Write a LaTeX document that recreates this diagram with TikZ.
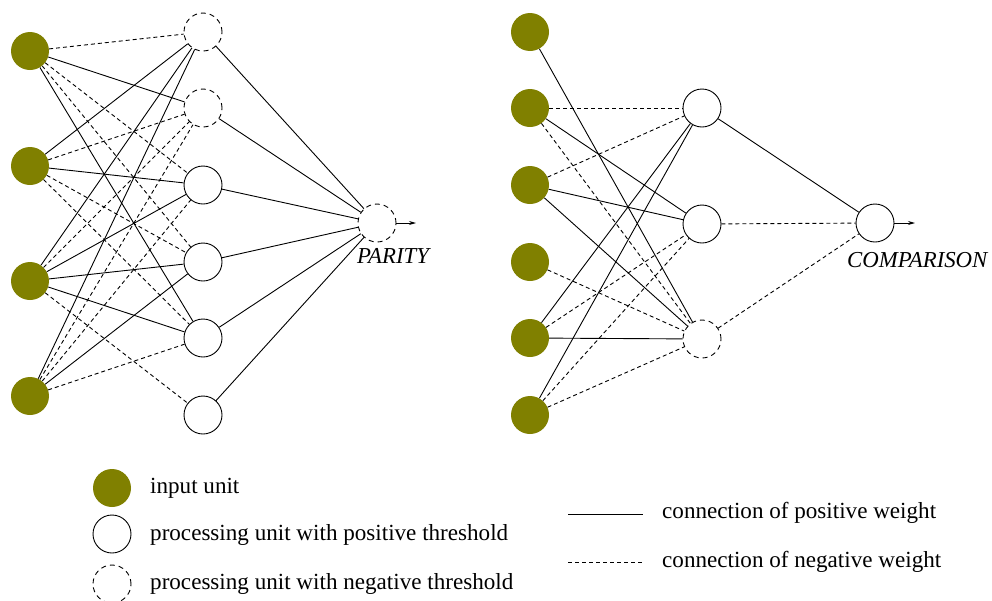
\documentclass[tikz,border=0pt]{standalone}
\usepackage{fontspec}
\setmainfont{Liberation Serif}
\usetikzlibrary{arrows.meta}
\definecolor{inputolive}{RGB}{128,128,0}
\tikzset{
  inunit/.style={circle,fill=inputolive,draw=none,minimum size=38pt,inner sep=0pt},
  posunit/.style={circle,draw=black,line width=0.9pt,fill=white,minimum size=38pt,inner sep=0pt},
  negunit/.style={circle,draw=black,line width=0.9pt,dash pattern=on 5pt off 4pt,fill=white,minimum size=38pt,inner sep=0pt},
  posw/.style={draw=black,line width=0.9pt},
  negw/.style={draw=black,line width=0.9pt,dash pattern=on 4pt off 3pt},
  outarrow/.style={draw=black,line width=0.9pt,-{Stealth[length=7pt,width=4pt]}},
  lbl/.style={inner sep=0pt,font=\fontsize{23.1}{27}\selectfont},
  netlbl/.style={inner sep=0pt,font=\fontsize{22.8}{27}\selectfont\itshape}
}
\begin{document}
\begin{tikzpicture}[x=1pt,y=-1pt]
\useasboundingbox (0,0) rectangle (992,600);
% ---------- left network (PARITY) ----------
\foreach \i/\y in {1/51,2/166,3/281,4/396}{\node[inunit] (A\i) at (30,\y) {};}
\node[negunit] (H1) at (203,32) {};
\node[negunit] (H2) at (203,108) {};
\node[posunit] (H3) at (203,185) {};
\node[posunit] (H4) at (203,262) {};
\node[posunit] (H5) at (203,338) {};
\node[posunit] (H6) at (203,415) {};
\node[negunit] (P) at (377,223) {};
\coordinate (Pout) at (416,223);
\foreach \a/\b in {A1/H2,A1/H5,A2/H1,A2/H3,A3/H1,A3/H3,A3/H4,A3/H5,A4/H1,A4/H4,
                   H1/P,H2/P,H3/P,H4/P,H5/P,H6/P}{\draw[posw] (\a) -- (\b);}
\foreach \a/\b in {A1/H1,A1/H3,A1/H4,A2/H2,A2/H4,A2/H5,A3/H2,A3/H6,A4/H2,A4/H3,A4/H5}{\draw[negw] (\a) -- (\b);}
\draw[outarrow] (P) -- (Pout);
\node[netlbl,anchor=base west] (parity) at (357,263) {PARITY};
% ---------- right network (COMPARISON) ----------
\foreach \i/\y in {1/32,2/108,3/185,4/262,5/338,6/415}{\node[inunit] (B\i) at (530,\y) {};}
\node[posunit] (J1) at (702,108) {};
\node[posunit] (J2) at (702,224) {};
\node[negunit] (J3) at (702,339) {};
\node[posunit] (C) at (875,223) {};
\coordinate (Cout) at (915,223);
\foreach \a/\b in {B1/J3,B2/J2,B3/J2,B3/J3,B5/J1,B5/J3,B6/J1,J1/C}{\draw[posw] (\a) -- (\b);}
\foreach \a/\b in {B2/J1,B2/J3,B3/J1,B4/J3,B5/J2,B6/J2,B6/J3,J2/C,J3/C}{\draw[negw] (\a) -- (\b);}
\draw[outarrow] (C) -- (Cout);
\node[netlbl,anchor=base west] (comparison) at (847,267) {COMPARISON};
% ---------- legend ----------
\node[inunit] (Lin) at (112,488) {};
\node[posunit] (Lpos) at (112,534) {};
\node[negunit] (Lneg) at (112,584) {};
\node[lbl,anchor=base west] (tin) at (150,493) {input unit};
\node[lbl,anchor=base west] (tpos) at (150,540) {processing unit with positive threshold};
\node[lbl,anchor=base west] (tneg) at (150,589) {processing unit with negative threshold};
\coordinate (ps) at (568,514); \coordinate (pe) at (643,514);
\coordinate (ns) at (568,562); \coordinate (ne) at (643,562);
\draw[posw] (ps) -- (pe);
\draw[negw] (ns) -- (ne);
\node[lbl,anchor=base west] (tpw) at (662,518) {connection of positive weight};
\node[lbl,anchor=base west] (tnw) at (662,567) {connection of negative weight};
\end{tikzpicture}
\end{document}
